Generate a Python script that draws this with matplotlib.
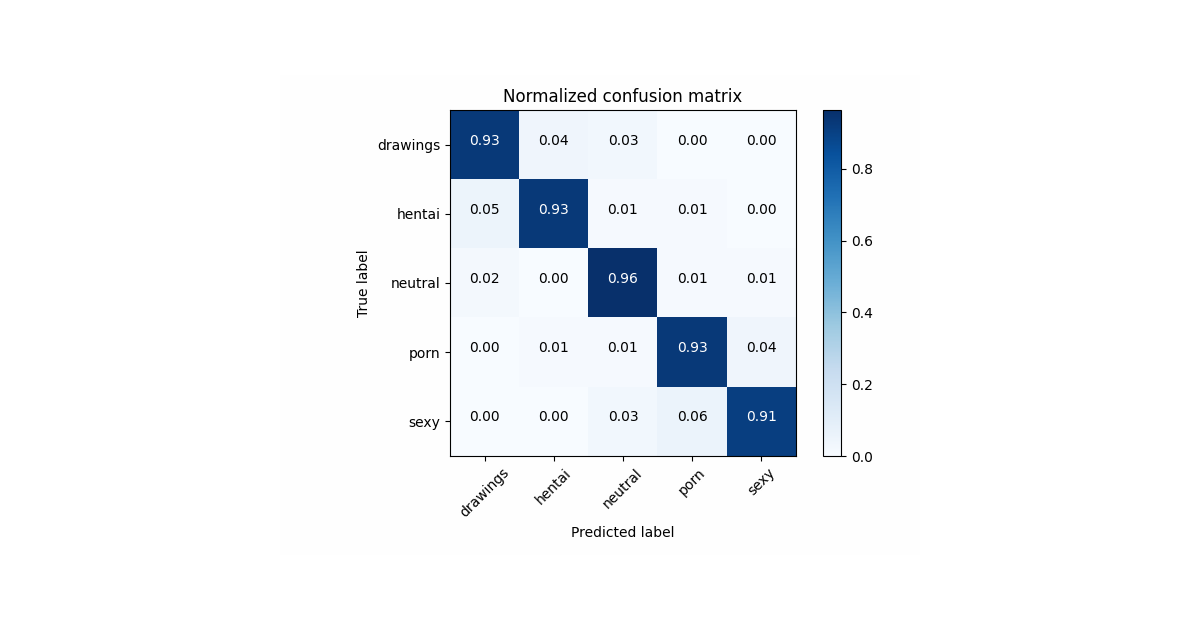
import matplotlib
matplotlib.use('Agg')
import matplotlib.pyplot as plt
import numpy as np

classes = ['drawings', 'hentai', 'neutral', 'porn', 'sexy']
row_drawings = [0.93, 0.04, 0.03, 0.00, 0.00]
row_hentai = [0.05, 0.93, 0.01, 0.01, 0.00]
row_neutral = [0.02, 0.00, 0.964, 0.01, 0.01]
row_porn = [0.00, 0.01, 0.01, 0.93, 0.04]
row_sexy = [0.00, 0.00, 0.03, 0.06, 0.91]

cm = np.array([row_drawings, row_hentai, row_neutral, row_porn, row_sexy])

W, H = 1200, 630
fig = plt.figure(figsize=(12, 6.3), dpi=100)

# faint backdrop of the original 640x480 image
fig.patches.append(plt.Rectangle((280 / W, 1 - 555 / H), 640 / W, 480 / H,
                                 transform=fig.transFigure, facecolor='#fefefe',
                                 edgecolor='none', zorder=-1))

ax = fig.add_axes([450 / W, 1 - 456 / H, 346 / W, 346 / H])
im = ax.imshow(cm, interpolation='nearest', cmap=plt.cm.Blues, aspect='auto')
ax.set_title('Normalized confusion matrix')

cax = fig.add_axes([823 / W, 1 - 456 / H, 18 / W, 346 / H])
fig.colorbar(im, cax=cax)

ticks = np.arange(len(classes))
ax.set_xticks(ticks)
ax.set_xticklabels(classes, rotation=45)
ax.set_yticks(ticks)
ax.set_yticklabels(classes)

thresh = cm.max() / 2.
for i in range(cm.shape[0]):
    for j in range(cm.shape[1]):
        ax.text(j, i, format(cm[i, j], '.2f'), horizontalalignment='center',
                color='white' if cm[i, j] > thresh else 'black')

ax.set_ylabel('True label')
ax.set_xlabel('Predicted label')

fig.savefig('out.png', dpi=100)
